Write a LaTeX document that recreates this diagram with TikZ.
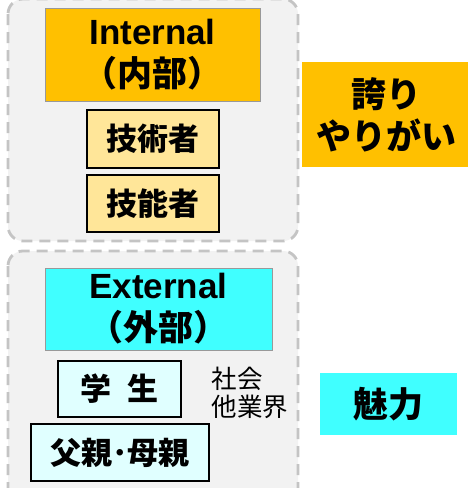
\documentclass[tikz,border=0pt]{standalone}
\usepackage{fontspec}
\setmainfont{Liberation Sans}
\newfontfamily\jp{Noto Sans CJK JP}
\definecolor{panelfill}{HTML}{F2F2F2}
\definecolor{paneldash}{HTML}{C4C4C4}
\definecolor{gold}{HTML}{FFC000}
\definecolor{lightgold}{HTML}{FFE699}
\definecolor{cyanbox}{HTML}{40FFFF}
\definecolor{lightcyan}{HTML}{E0FFFF}
\begin{document}
\begin{tikzpicture}[x=1pt,y=-1pt,
  panel/.style={draw=paneldash, fill=panelfill, line width=2.8pt, dash pattern=on 11pt off 7pt, rounded corners=15pt},
  headbox/.style={draw=black!40, line width=0.8pt, inner sep=0pt, align=center, font=\bfseries\fontsize{35}{42}\selectfont},
  subbox/.style={draw=black, line width=2pt, inner sep=0pt, font=\jp\bfseries\fontsize{31}{35}\selectfont},
  sidebox/.style={inner sep=0pt, align=center, font=\jp\bfseries\fontsize{35}{42}\selectfont}]
\clip (0,0) rectangle (468,488);
\fill[white] (0,0) rectangle (468,488);
% panels
\path[panel] (8,-1) rectangle (298,241);
\path[panel] (8,251) rectangle (298,520);
% internal group
\node[headbox, fill=gold, minimum width=215pt, minimum height=93pt] (int) at (152.5,54.5) {Internal\\{\jp （内部）}};
\node[subbox, fill=lightgold, minimum width=132pt, minimum height=58pt] (eng) at (153,139) {技術者};
\node[subbox, fill=lightgold, minimum width=132pt, minimum height=57pt] (tech) at (153,203.5) {技能者};
% external group
\node[headbox, fill=cyanbox, minimum width=227pt, minimum height=82pt] (ext) at (158.5,309) {External\\{\jp （外部）}};
\node[subbox, fill=lightcyan, minimum width=123pt, minimum height=56pt] (stu) at (119.5,389) {学\hspace{0.5em}生};
\node[subbox, fill=lightcyan, minimum width=178pt, minimum height=57pt] (par) at (120,452.5) {父親･母親};
\node[inner sep=0pt, align=left, font=\jp\fontsize{25.5}{28}\selectfont] (soc) at (250,393) {社会\\他業界};
% side boxes
\node[sidebox, fill=gold, minimum width=168pt, minimum height=105pt] (pride) at (386,114.5) {誇り\\やりがい};
\node[sidebox, fill=cyanbox, minimum width=137pt, minimum height=62pt] (charm) at (388.5,404) {魅力};
\end{tikzpicture}
\end{document}
